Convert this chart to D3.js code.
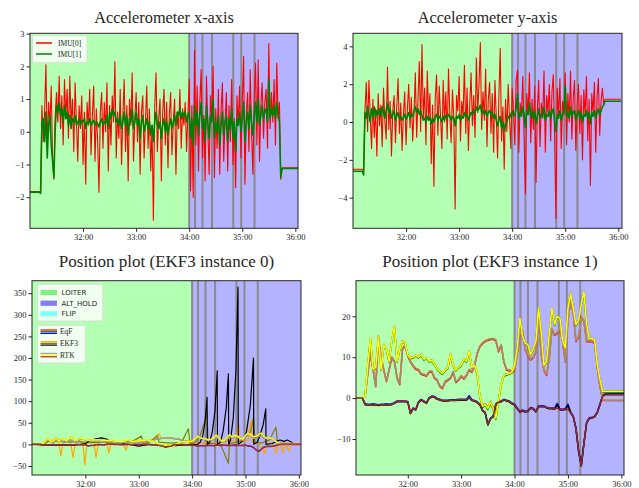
<!DOCTYPE html>
<html>
<head>
<meta charset="utf-8">
<script src="https://cdn.jsdelivr.net/npm/d3@7"></script>
<style>
  body { margin: 0; background: #fff; }
</style>
</head>
<body>
<script>
// ---- data (time in minutes of the log) ----
const modeSpans = [
  {name: 'LOITER', from: 30.9, to: 34.0},
  {name: 'ALT_HOLD', from: 34.0, to: 36.2}
];
const modeNames = ['LOITER', 'ALT_HOLD', 'FLIP'];
const modeChanges = [34.0, 34.11, 34.25, 34.43, 34.83, 34.98, 35.23];
const xTickVals = [32, 33, 34, 35, 36];

// accelerometer samples, one every accDt minutes from accT0
const accT0 = 31.0, accDt = 0.025;
const accX0 = [-1.83,-1.83,-1.83,-1.83,-1.83,-1.83,-1.83,-1.83,-1.85,
  0.8,-0.3,0.6,2.05,-0.5,0.9,0.2,1.4,-0.8,-1.45,
  0.5,1.2,0.3,1.7,0.1,1.1,-0.4,1.6,0.4,1.3,
  -0.2,1.7,0.2,1.0,-0.6,1.5,0.3,-0.9,0.8,0.1,
  1.1,-1.0,0.6,-1.6,0.9,0.2,1.3,-0.7,0.5,1.4,
  -0.9,0.7,-0.3,-1.85,0.6,1.2,-0.5,0.9,0.0,1.5,
  -1.2,0.8,-0.4,1.1,0.3,2.15,-0.8,0.6,-0.2,1.3,
  -1.0,0.5,1.6,-0.6,0.8,-1.5,1.0,0.2,1.8,-0.9,
  0.4,1.2,-0.3,0.9,-1.3,0.6,1.1,-0.8,0.3,1.4,
  -0.5,0.7,-1.2,0.2,-2.7,0.8,1.8,-0.6,0.4,1.0,
  -1.5,0.6,1.3,-0.4,0.9,-1.1,0.5,1.2,-0.7,0.3,
  1.0,-1.3,0.6,0.1,1.3,-0.5,0.7,0.2,0.9,-0.6,
  0.5,1.6,-1.8,0.8,-2.0,2.5,-0.4,1.4,-1.2,0.9,
  1.9,-0.8,0.5,-1.5,1.7,0.2,-1.3,1.1,0.4,2.0,
  -1.4,0.7,-0.5,1.3,-1.3,0.6,1.5,-0.9,0.3,1.2,
  -1.2,0.8,-0.3,1.6,-1.0,0.4,-1.7,1.1,0.2,1.4,
  -0.8,0.9,2.3,-1.6,0.5,1.2,-0.6,1.9,0.0,-1.3,
  1.0,2.1,-0.4,2.2,-0.9,0.8,1.5,-0.2,0.9,1.3,
  -0.5,2.7,0.1,1.2,0.3,1.6,-0.4,2.1,0.4,0.9,
  -1.45,-1.1,-1.1,-1.1,-1.1,-1.1,-1.1,-1.1,-1.1,-1.1,-1.1,-1.1,-1.1,-1.1];
const accX1 = [-1.85,-1.85,-1.85,-1.85,-1.85,-1.85,-1.85,-1.85,-1.88,
  0.3,0.4,-0.3,0.6,-0.8,0.2,0.5,-0.4,-0.9,-1.4,
  0.1,0.8,0.6,0.9,0.5,0.7,0.3,0.8,0.4,0.6,
  0.2,0.5,0.1,0.4,0.3,0.5,0.2,0.3,0.4,0.2,
  0.35,0.3,0.4,0.1,0.3,0.25,0.4,0.2,0.3,0.35,
  0.2,0.3,0.25,0.15,0.3,0.4,0.2,0.3,0.25,0.5,
  0.1,0.6,0.4,0.7,0.5,0.6,0.3,0.4,0.2,0.5,
  0.1,0.3,0.6,0.2,0.5,-0.1,0.4,0.3,0.7,0.1,
  0.3,0.6,0.2,0.4,-0.2,0.3,0.5,0.0,0.2,0.4,
  0.1,0.3,-0.1,0.2,-0.3,0.3,0.6,0.2,0.1,0.3,
  -0.2,0.2,0.4,0.0,0.3,-0.1,0.2,0.4,0.1,0.3,
  0.5,0.2,0.6,0.5,0.7,0.4,0.6,0.5,0.6,0.3,
  0.5,0.6,-0.2,0.4,-0.4,0.8,0.2,0.6,-0.1,0.5,
  0.9,0.1,0.4,-0.3,0.8,0.3,-0.2,0.5,0.3,1.0,
  -0.2,0.3,0.0,0.5,-0.4,0.2,0.6,-0.1,0.3,0.5,
  -0.3,0.4,0.1,0.7,-0.2,0.3,-0.6,0.4,0.2,0.6,
  0.0,0.4,0.9,-0.3,0.3,0.6,0.1,0.8,0.3,-0.1,
  0.5,0.9,0.3,1.0,0.2,0.5,0.8,0.4,0.6,0.7,
  0.3,1.6,0.4,0.7,0.5,0.8,0.4,0.9,0.5,0.3,
  -1.4,-1.12,-1.12,-1.12,-1.12,-1.12,-1.12,-1.12,-1.12,-1.12,-1.12,-1.12,-1.12,-1.12];
const accY0 = [-2.5,-2.5,-2.5,-2.5,-2.5,-2.5,-2.5,-2.5,-2.6,
  0.6,2.1,-0.5,2.2,0.3,-1.4,1.2,-0.8,0.7,-1.8,
  1.5,-0.2,0.9,-1.3,1.8,0.1,-0.9,2.9,-0.4,1.1,
  -1.8,0.6,1.4,-1.1,0.8,2.3,-0.6,1.0,-1.5,0.4,
  1.6,-1.2,0.7,2.0,-0.3,1.3,-1.0,0.5,2.6,-0.8,
  1.2,3.2,-0.5,4.1,0.2,1.8,-1.2,2.7,0.1,1.5,
  -2.2,0.9,-3.4,1.3,2.5,-0.7,1.9,0.3,-1.4,2.2,
  0.0,1.6,-0.9,2.8,0.4,-1.1,1.7,0.2,-4.6,1.4,
  0.6,2.4,-1.0,1.1,0.3,3.0,-0.6,1.8,-1.5,0.9,
  2.6,-0.2,1.4,-0.8,3.4,0.5,2.0,4.2,-0.4,1.6,
  0.1,2.8,-1.3,1.2,2.1,-0.6,1.5,-1.6,2.2,0.3,
  -1.9,1.4,3.9,-1.0,0.8,-2.5,1.2,-0.5,2.0,0.2,
  -1.4,1.8,0.6,-1.2,2.2,2.75,-1.6,1.0,0.3,2.4,
  -0.9,-3.8,1.5,0.4,2.6,-1.1,1.2,-0.4,1.9,-3.2,
  0.7,2.2,-1.3,1.0,0.2,2.7,-1.6,1.4,0.5,2.0,
  -1.0,1.6,2.5,-0.8,-5.1,1.8,0.3,2.3,-1.4,1.1,
  0.4,2.6,-1.2,1.5,0.0,2.7,-0.9,1.2,2.2,-1.5,
  0.8,2.0,-0.6,1.4,-2.0,1.7,0.3,2.4,-1.0,1.2,
  -3.35,1.5,0.5,2.1,-1.6,1.3,2.3,-0.7,1.1,1.8,
  0.9,1.2,1.2,1.2,1.2,1.2,1.2,1.2,1.2,1.2,1.2,1.2,1.2,1.2];
const accY1 = [-2.6,-2.6,-2.6,-2.6,-2.6,-2.6,-2.6,-2.6,-2.8,
  0.5,0.2,0.8,0.4,0.0,0.7,0.3,0.8,0.2,0.6,
  0.4,0.7,0.3,0.8,0.5,0.2,0.6,1.0,0.5,0.7,
  0.2,0.4,0.6,0.1,0.3,0.5,0.2,0.3,0.1,0.25,
  0.4,0.15,0.3,0.5,0.2,0.4,0.3,0.6,0.8,0.5,
  0.7,0.4,0.6,0.3,0.1,0.2,0.0,0.3,0.1,0.25,
  -0.1,0.2,0.0,0.3,0.4,0.1,0.3,0.2,0.0,0.3,
  0.1,0.35,0.2,0.4,0.3,0.1,0.3,0.2,-0.2,0.3,
  0.2,0.4,0.1,0.3,0.2,0.5,0.3,0.4,0.1,0.3,
  0.5,0.4,0.6,0.5,0.8,0.6,0.7,0.9,0.5,0.6,
  0.4,0.6,0.3,0.5,0.6,0.4,0.5,0.2,0.4,0.1,
  -0.2,0.1,0.3,-0.3,0.0,-0.5,-0.1,0.0,0.3,0.2,
  0.4,0.6,0.3,0.4,0.7,1.5,0.2,0.5,0.3,0.8,
  0.4,-0.3,0.6,0.4,1.0,0.3,0.5,0.2,0.6,-0.1,
  0.3,0.7,0.2,0.4,0.3,0.8,0.1,0.4,0.3,0.6,
  0.2,0.5,0.7,0.1,-0.5,0.4,0.2,0.6,0.1,0.4,
  0.5,1.9,0.3,0.5,0.2,0.8,0.3,0.5,0.6,0.1,
  0.4,0.6,0.2,0.5,0.0,0.4,0.3,0.6,0.2,0.5,
  -0.1,0.5,0.3,0.6,0.2,0.5,0.7,0.4,0.6,0.8,
  0.9,1.1,1.1,1.1,1.1,1.1,1.1,1.1,1.1,1.1,1.1,1.1,1.1,1.1];

// position samples (N, E, D), one every posDt minutes from posT0
const posT0 = 31.0, posDt = 0.05;
const rtkN = [0,0,0,0,0.5,6,11,7,3,15,
  10,7,4.1,7,10,9,5,3.5,12,13,
  10.5,9,8,7.2,7,6,5.8,5.5,6.5,6.6,
  5,4.5,3,2.5,4.1,4.5,5,6.5,4,4.5,
  5.5,4.8,5.7,7,6.5,8,11,12.7,13.5,14,
  14.3,14.5,14.5,14.2,11.5,13,9,7,6.9,6.5,
  7,11,15.5,16.5,12,10.5,9.5,10,11.5,18.8,
  11,7,5.7,10,17,15.5,16,17,14,9,
  19,23.7,21,14,15,19.5,19,14,14,14,
  13.5,7.5,3,-0.4,-0.5,-0.5,-0.5,-0.5,-0.5,-0.5,
  -0.5,-0.5];
const rtkE = [0,0,0,0,0.5,8,14.5,7,7.5,15,
  7,13,12,9,14,17.5,9,12,13.9,13.5,
  10.6,9.8,10,10.5,10,10.6,9.5,9.8,9,9.2,
  8.3,7.2,6.5,6,6.8,7.5,10.8,8,6.8,7.5,
  8,9.5,9,11.4,7.5,8,6,0.5,-2,-1.6,
  -2.5,-1,-2.5,-4.9,-0.5,3.5,5.6,5.8,6,6.3,
  8,12.3,19.5,15,13.5,13,10.6,12,14,22,
  16,8,9,15.5,22,18,20,19.5,14,12.3,
  22,25.5,22,18,19,23,26,18,14.5,14.5,
  14.2,8.2,4.5,1.6,1.6,1.7,1.7,1.7,1.7,1.7,
  1.7,1.7];
const rtkD = [0,0,0,0,-1.5,-1.6,-1.6,-1.5,-1.6,-1.7,
  -1.6,-1.6,-1.5,-1.6,-1.5,-1.2,-0.8,-0.8,-0.8,-0.8,
  -0.9,-3.7,-2.5,-2.8,-1,-0.4,-0.8,-1.2,0,0.4,
  0.3,-0.2,-0.4,-0.6,-0.6,-0.6,-0.5,-0.5,-0.5,-0.4,
  -0.4,-0.4,-0.4,0.2,-0.5,-0.7,-1,-1.6,-3,-3.6,
  -6.5,-5,-4.5,-1.5,-1,-0.8,-0.4,-0.6,-0.8,-1.3,
  -1.6,-2.5,-3.4,-3,-3.3,-3.2,-2.4,-2.6,-3.3,-2,
  -2,-2,-2.3,-2.5,-2.5,-2.6,-2.4,-2.8,-2.8,-2.7,
  -2.8,-3.5,-4.5,-7.4,-13,-16.5,-11,-6,-4.9,-4.8,
  -4.5,-3.5,-1.5,0.4,0.8,0.8,0.8,0.8,0.8,0.8,
  0.8,0.8];
const eqfN = [0,0,0,0,0.4,5.8,10.8,6.8,2.8,14.7,
  9.8,6.8,4.0,6.8,9.8,8.8,4.8,3.3,11.8,12.8,
  10.3,8.8,7.8,7.0,6.8,5.8,5.6,5.3,6.3,6.4,
  4.8,4.3,2.8,2.3,3.9,4.3,4.8,6.3,3.8,4.3,
  5.3,4.6,5.5,6.8,6.3,7.8,10.8,12.5,13.3,13.8,
  14.1,14.3,14.3,14.0,11.3,12.8,8.8,6.8,6.7,6.3,
  6.8,10.8,15.3,16.3,11.8,10.3,9.3,9.8,11.3,19.2,
  10.8,6.8,5.5,9.8,16.8,15.3,15.8,16.8,13.8,8.8,
  19.3,23.5,20.8,13.8,14.8,19.8,18.8,13.8,13.8,13.8,
  13.3,7.3,2.8,-0.5,-0.6,-0.6,-0.6,-0.6,-0.6,-0.6,
  -0.6,-0.6];
const eqfE = [0,0,0,0,0.4,7.8,14.3,6.8,7.3,14.8,
  6.8,12.8,11.8,8.8,13.8,17.3,8.8,11.8,13.7,13.3,
  10.4,9.6,9.8,10.3,9.8,10.4,9.3,9.6,8.8,9.0,
  8.1,7.0,6.3,5.8,6.6,7.3,10.6,7.8,6.6,7.3,
  7.8,9.3,8.8,11.2,7.3,7.8,5.8,0.3,-2.3,-1.8,
  -2.8,-1.3,-2.8,-5.2,-0.8,3.3,5.4,5.6,5.8,6.1,
  7.8,12.1,19.3,14.8,13.3,12.8,10.4,11.8,13.8,21.8,
  15.8,7.8,8.8,15.3,21.8,17.8,19.8,19.3,13.8,12.1,
  21.8,25.3,21.8,17.8,18.8,22.8,25.8,17.8,14.3,14.3,
  14.0,8.0,4.3,1.4,1.4,1.5,1.5,1.5,1.5,1.5,
  1.5,1.5];
const eqfD = [0,0,0,0,-1.4,-1.5,-1.5,-1.4,-1.5,-1.6,
  -1.5,-1.5,-1.4,-1.5,-1.4,-1.1,-0.7,-0.7,-0.7,-0.7,
  -0.8,-3.6,-2.4,-2.7,-0.9,-0.3,-0.7,-1.1,0.1,0.5,
  0.4,-0.1,-0.3,-0.5,-0.5,-0.5,-0.4,-0.4,-0.4,-0.3,
  -0.3,-0.3,-0.3,0.6,-0.4,-0.6,-0.9,-1.5,-2.9,-3.5,
  -6.4,-4.9,-4.4,-1.4,-0.9,-0.7,-0.3,-0.5,-0.7,-1.2,
  -1.5,-2.4,-3.3,-2.9,-3.2,-3.1,-2.3,-2.5,-3.2,-1.9,
  -1.9,-1.9,-2.2,-2.4,-2.4,-2.5,-1.3,-2.7,-2.7,-2.6,
  -1.5,-3.4,-4.4,-7.3,-12.9,-16.4,-10.9,-5.9,-4.8,-4.7,
  -4.4,-3.4,-1.4,0.5,0.9,0.9,0.9,0.9,0.9,0.9,
  0.9,0.9];
// EKF3 instance 1, same sampling
const ekf1N = [0,0,0,0,0.6,6.1,11.2,7.1,3.1,15.2,
  10.1,7.1,4.2,7.1,10.1,9.1,5.1,3.6,12.1,13.1,
  10.6,9.1,8.1,7.3,7.1,6.1,5.9,5.6,6.6,6.7,
  5.1,4.6,3.1,2.6,4.2,4.6,5.1,6.6,4.1,4.6,
  5.6,4.9,5.8,7.1,6.6,8.1,11.1,12.8,13.6,14.1,
  14.4,14.6,14.6,14.3,11.6,13.1,9.1,7.1,7.0,6.6,
  7.1,11.1,15.6,16.6,12.1,10.6,9.6,10.1,11.6,18.9,
  11.1,7.1,5.8,10.1,17.1,15.6,16.1,17.1,14.1,9.1,
  19.1,23.8,21.1,14.1,15.1,19.6,19.1,14.1,14.1,14.1,
  13.6,7.6,3.1,-0.3,-0.4,-0.4,-0.4,-0.4,-0.4,-0.4,
  -0.4,-0.4];
const ekf1E = [0,0,0,0,0.5,8.1,14.6,7.1,7.6,15.1,
  7.1,13.1,12.1,9.1,14.1,17.6,9.1,12.1,14.0,13.6,
  10.7,9.9,10.1,10.6,10.1,10.7,9.6,9.9,9.1,9.3,
  8.4,7.3,6.6,6.1,6.9,7.6,10.9,8.1,6.9,7.6,
  8.1,9.6,9.1,11.5,7.6,8.1,6.1,0.6,-1.8,-1.4,
  -2.3,-0.8,-2.2,-4.6,-0.3,3.6,5.7,5.9,6.1,6.4,
  8.1,12.4,19.6,15.1,13.6,13.1,10.7,12.1,14.1,22.1,
  16.1,8.1,9.1,15.6,22.1,18.1,20.1,19.6,14.1,12.4,
  22.1,25.6,22.1,18.1,19.1,23.1,26.1,18.1,14.6,14.6,
  14.3,8.3,4.6,1.7,1.7,1.8,1.8,1.8,1.8,1.8,
  1.8,1.8];
const ekf1D = [0,0,0,0,-1.6,-1.7,-1.7,-1.6,-1.7,-1.8,
  -1.7,-1.7,-1.6,-1.7,-1.6,-1.3,-0.9,-0.9,-0.9,-0.9,
  -1.0,-3.8,-2.6,-2.9,-1.1,-0.5,-0.9,-1.3,-0.1,0.3,
  0.2,-0.3,-0.5,-0.7,-0.7,-0.7,-0.6,-0.6,-0.6,-0.5,
  -0.5,-0.5,-0.5,0.1,-0.6,-0.8,-1.1,-1.7,-3.1,-3.7,
  -6.6,-5.1,-4.6,-1.6,-1.1,-0.9,-0.5,-0.7,-0.9,-1.4,
  -1.7,-2.6,-3.5,-3.1,-3.4,-3.3,-2.5,-2.7,-3.4,-2.1,
  -2.1,-2.1,-2.4,-2.6,-2.6,-2.7,-1.6,-2.9,-2.9,-2.8,
  -1.8,-3.6,-4.6,-7.5,-13.1,-16.6,-11.1,-6.1,-5.0,-4.9,
  -4.6,-3.6,-1.6,0.6,1.0,1.0,1.0,1.0,1.0,1.0,
  1.0,1.0];
// EKF3 instance 0, irregular [time, value] samples
const ekf0N = [[31.0,0],[31.2,0],[31.3,8],[31.4,10],[31.5,5],[31.54,-27],[31.58,5],[31.65,10],[31.72,6],
  [31.77,-31],[31.81,4],[31.88,8],[31.95,5],[31.99,-48],[32.03,2],[32.1,8],[32.16,4],[32.2,-31],
  [32.24,3],[32.32,6],[32.4,3],[32.44,-19],[32.48,2],[32.6,5],[32.7,4],[32.76,-14],[32.8,3],
  [32.95,6],[33.1,8],[33.25,10],[33.38,24],[33.42,14],[33.6,14],[33.75,12],[33.85,6],[34.0,2],
  [34.2,4],[34.4,3],[34.6,5],[34.8,8],[34.875,44],[34.9,4],[35.05,10],[35.1,55],[35.13,5],
  [35.25,3],[35.36,-21],[35.4,2],[35.5,3],[35.57,-21],[35.6,0],[35.65,2],[35.7,-20],[35.74,0],
  [35.82,-15],[35.85,1],[36.05,1]];
const ekf0E = [[31.0,0],[31.2,0],[31.3,6],[31.5,8],[31.7,5],[31.9,6],[32.1,4],[32.3,5],[32.5,3],
  [32.7,4],[32.9,8],[33.05,19],[33.08,2],[33.2,5],[33.35,20],[33.38,5],[33.6,3],[33.8,4],
  [33.93,36],[33.96,2],[34.05,3],[34.15,20],[34.28,71],[34.3,3],[34.4,2],[34.5,0],[34.55,-5],
  [34.68,-44],[34.7,2],[34.8,4],[34.95,10],[35.1,30],[35.15,62],[35.18,5],[35.3,3],[35.45,10],
  [35.57,40],[35.6,3],[35.8,2],[36.05,1]];
const ekf0D = [[31.0,0],[31.2,-1],[31.4,-2],[31.6,-1],[31.8,-2],[32.0,2],[32.1,10],[32.2,13],
  [32.3,15],[32.4,12],[32.5,5],[32.7,2],[32.9,-2],[33.0,-4],[33.2,0],[33.4,-2],[33.5,-5],
  [33.7,-3],[33.9,-1],[34.1,0],[34.15,5],[34.2,20],[34.24,50],[34.28,109],[34.285,0],
  [34.33,5],[34.38,30],[34.43,80],[34.47,170],[34.475,0],[34.53,5],[34.58,30],[34.64,85],
  [34.68,163],[34.685,0],[34.72,10],[34.77,60],[34.82,170],[34.86,364],[34.865,0],[34.95,8],
  [35.02,30],[35.09,90],[35.15,200],[35.155,0],[35.22,5],[35.27,20],[35.33,45],[35.38,82],
  [35.385,0],[35.5,2],[35.6,8],[35.65,10],[35.72,7],[35.78,10],[35.85,6],[35.9,0],[36.05,0]];

// ---- drawing ----
const serif = '"Liberation Serif", "DejaVu Serif", serif';
const sans = '"DejaVu Sans", sans-serif';
const ink = '#262626';
const modeBg = {LOITER: '#b3ffb3', ALT_HOLD: '#b3b3ff'};
const modePatch = {LOITER: '#80f080', ALT_HOLD: '#8080f0', FLIP: '#80ffff'};

const svg = d3.select('body').append('svg')
  .attr('width', 639).attr('height', 488)
  .style('display', 'block');

function panel(id, box, xDom, yDom, yTicks, title) {
  const g = svg.append('g').attr('transform', `translate(${box.x},${box.y})`);
  const x = d3.scaleLinear().domain(xDom).range([0, box.w]);
  const y = d3.scaleLinear().domain(yDom).range([box.h, 0]);

  g.append('clipPath').attr('id', 'clip' + id)
    .append('rect').attr('width', box.w).attr('height', box.h);
  const plot = g.append('g').attr('clip-path', `url(#clip${id})`);

  plot.selectAll('rect.mode').data(modeSpans).join('rect')
    .attr('class', 'mode')
    .attr('x', d => x(d.from)).attr('width', d => x(d.to) - x(d.from))
    .attr('y', 0).attr('height', box.h)
    .attr('fill', d => modeBg[d.name]);

  plot.selectAll('line.mc').data(modeChanges).join('line')
    .attr('class', 'mc')
    .attr('x1', d => x(d)).attr('x2', d => x(d))
    .attr('y1', 0).attr('y2', box.h)
    .attr('stroke', '#8a8a8a').attr('stroke-width', 2);

  const xa = g.append('g').attr('transform', `translate(0,${box.h})`)
    .call(d3.axisBottom(x).tickValues(xTickVals).tickFormat(d => d + ':00')
      .tickSize(3.5).tickSizeOuter(0).tickPadding(2));
  const ya = g.append('g')
    .call(d3.axisLeft(y).tickValues(yTicks).tickFormat(d3.format('d'))
      .tickSize(3.5).tickSizeOuter(0).tickPadding(2));
  [xa, ya].forEach(a => {
    a.attr('color', ink);
    a.select('.domain').remove();
    a.selectAll('text').attr('font-family', serif).attr('font-size', 8.5).attr('fill', ink);
    a.selectAll('line').attr('stroke', ink);
  });

  svg.append('text')
    .attr('x', box.x + box.w / 2).attr('y', box.titleY)
    .attr('text-anchor', 'middle')
    .attr('font-family', serif).attr('font-size', box.titleSize)
    .attr('fill', ink)
    .text(title);

  return {g, plot, x, y, box};
}

function sampled(p, t0, dt, values, color, width) {
  const line = d3.line().x((d, i) => p.x(t0 + i * dt)).y(d => p.y(d));
  p.plot.append('path').datum(values)
    .attr('d', line).attr('fill', 'none')
    .attr('stroke', color).attr('stroke-width', width)
    .attr('stroke-linejoin', 'round');
}
function paired(p, pairs, color, width) {
  const line = d3.line().x(d => p.x(d[0])).y(d => p.y(d[1]));
  p.plot.append('path').datum(pairs)
    .attr('d', line).attr('fill', 'none')
    .attr('stroke', color).attr('stroke-width', width)
    .attr('stroke-linejoin', 'round');
}
function frame(p) {
  p.g.append('rect').attr('width', p.box.w).attr('height', p.box.h)
    .attr('fill', 'none').attr('stroke', ink).attr('stroke-width', 1);
}

// Accelerometer x
const pTL = panel('tl', {x: 30, y: 33.3, w: 268, h: 195, titleY: 22.5, titleSize: 16.3},
  [31.0, 36.05], [-2.95, 3.01], [-2, -1, 0, 1, 2, 3], 'Accelerometer x-axis');
sampled(pTL, accT0, accDt, accX0, '#ff0000', 1.1);
sampled(pTL, accT0, accDt, accX1, '#008000', 1.6);
frame(pTL);

// Accelerometer y
const pTR = panel('tr', {x: 353, y: 33.3, w: 269, h: 195, titleY: 22.5, titleSize: 16.3},
  [31.0, 36.07], [-5.62, 4.69], [-4, -2, 0, 2, 4], 'Accelerometer y-axis');
sampled(pTR, accT0, accDt, accY0, '#ff0000', 1.1);
sampled(pTR, accT0, accDt, accY1, '#008000', 1.6);
frame(pTR);

// Position EKF3 instance 0
const pBL = panel('bl', {x: 32, y: 280.7, w: 269, h: 194.3, titleY: 266.5, titleSize: 17},
  [31.0, 36.04], [-71, 379], [-50, 0, 50, 100, 150, 200, 250, 300, 350],
  'Position plot (EKF3 instance 0)');
sampled(pBL, posT0, posDt, eqfN, '#ff0000', 1.2);
sampled(pBL, posT0, posDt, eqfE, '#008000', 1.2);
sampled(pBL, posT0, posDt, eqfD, '#0000ff', 1.2);
paired(pBL, ekf0N, '#ffa500', 1.2);
paired(pBL, ekf0E, '#808000', 1.2);
paired(pBL, ekf0D, '#000000', 1.2);
sampled(pBL, posT0, posDt, rtkN, '#a0a0a0', 1.5);
sampled(pBL, posT0, posDt, rtkE, '#ffff00', 1.5);
sampled(pBL, posT0, posDt, rtkD, '#a52a2a', 1.5);
frame(pBL);

// Position EKF3 instance 1
const pBR = panel('br', {x: 356, y: 280.7, w: 268, h: 194.3, titleY: 266.5, titleSize: 17},
  [31.03, 36.05], [-18.8, 28.7], [-10, 0, 10, 20], 'Position plot (EKF3 instance 1)');
sampled(pBR, posT0, posDt, eqfN, '#ff0000', 1.5);
sampled(pBR, posT0, posDt, eqfE, '#008000', 1.5);
sampled(pBR, posT0, posDt, eqfD, '#0000ff', 1.5);
sampled(pBR, posT0, posDt, ekf1N, '#ffa500', 1.5);
sampled(pBR, posT0, posDt, ekf1E, '#808000', 1.5);
sampled(pBR, posT0, posDt, ekf1D, '#000000', 1.5);
sampled(pBR, posT0, posDt, rtkN, '#a08878', 1.5);
sampled(pBR, posT0, posDt, rtkE, '#ffff00', 1.5);
sampled(pBR, posT0, posDt, rtkD, '#8b2a2a', 1.5);
frame(pBR);

// ---- legends ----
function legendBox(x, y, w, h) {
  svg.append('rect').attr('x', x).attr('y', y).attr('width', w).attr('height', h)
    .attr('rx', 2).attr('fill', 'rgba(255,255,255,0.8)')
    .attr('stroke', '#d8d8d8').attr('stroke-width', 0.8);
}

// IMU legend
const imuLegend = [{label: 'IMU[0]', color: '#ff0000'}, {label: 'IMU[1]', color: '#008000'}];
legendBox(32.5, 35.7, 54.5, 27);
imuLegend.forEach((d, i) => {
  const yy = 43 + i * 11;
  svg.append('line').attr('x1', 36).attr('x2', 52).attr('y1', yy).attr('y2', yy)
    .attr('stroke', d.color).attr('stroke-width', 1.5);
  svg.append('text').attr('x', 58).attr('y', yy + 2.6)
    .attr('font-family', serif).attr('font-size', 7.5).attr('fill', ink).text(d.label);
});

// mode legend
legendBox(37.3, 284.3, 65.5, 36.7);
modeNames.forEach((m, i) => {
  const yy = 290 + i * 10.6;
  svg.append('rect').attr('x', 40.5).attr('y', yy).attr('width', 16.5).attr('height', 5.2)
    .attr('fill', modePatch[m]);
  svg.append('text').attr('x', 61.5).attr('y', yy + 5)
    .attr('font-family', sans).attr('font-size', 7).attr('fill', ink).text(m);
});

// source legend
const sources = [
  {label: 'EqF', colors: ['#ff0000', '#008000', '#0000ff']},
  {label: 'EKF3', colors: ['#ffa500', '#808000', '#000000']},
  {label: 'RTK', colors: ['#a0a0a0', '#ffff00', '#a52a2a']}
];
legendBox(37.3, 325.3, 48, 37.7);
sources.forEach((s, i) => {
  const yy = 331.7 + i * 11.7;
  s.colors.forEach((c, k) => {
    svg.append('line').attr('x1', 40.5).attr('x2', 57)
      .attr('y1', yy - 1.7 + k * 1.7).attr('y2', yy - 1.7 + k * 1.7)
      .attr('stroke', c).attr('stroke-width', 1.2);
  });
  svg.append('text').attr('x', 60).attr('y', yy + 2.7)
    .attr('font-family', serif).attr('font-size', 7.5).attr('fill', ink).text(s.label);
});
</script>
</body>
</html>
